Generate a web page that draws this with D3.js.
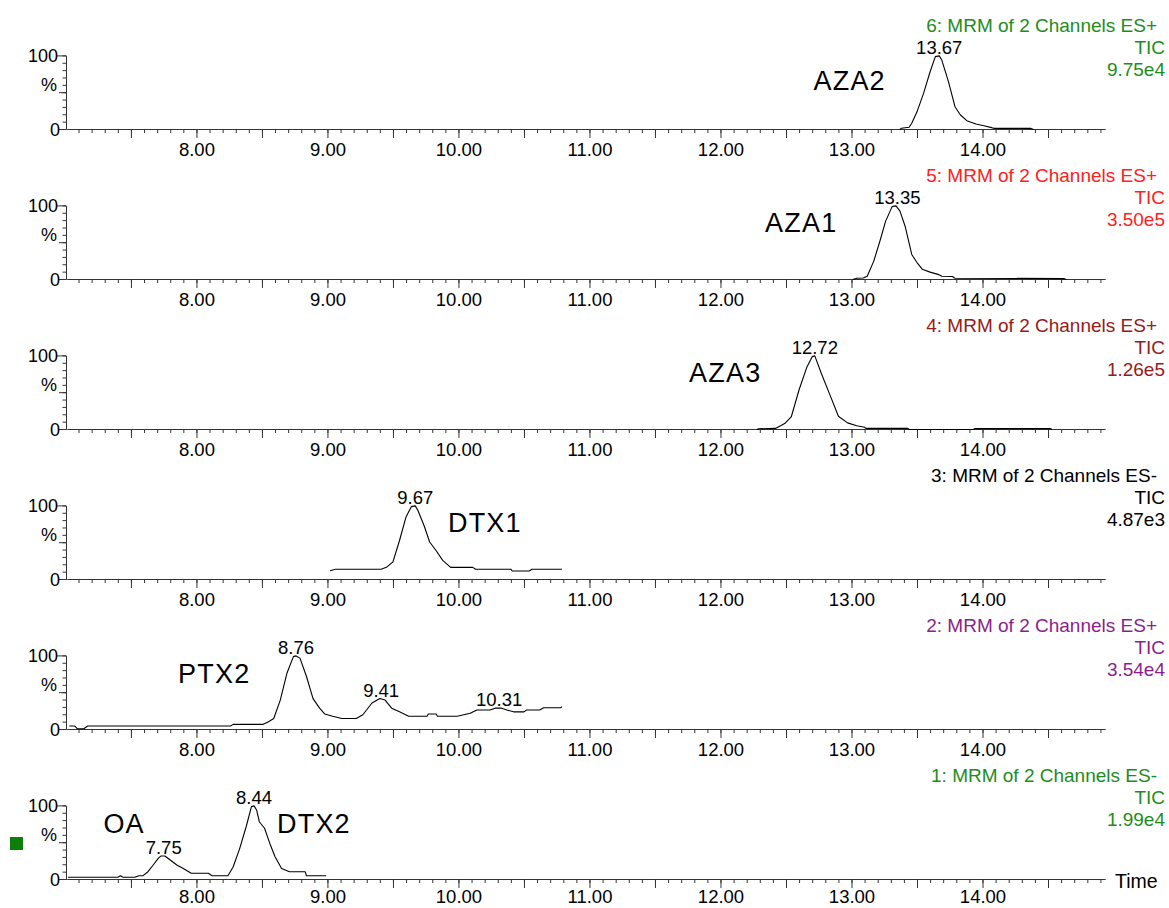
<!DOCTYPE html>
<html>
<head>
<meta charset="utf-8">
<script src="https://cdn.jsdelivr.net/npm/d3@7"></script>
<style>
  body { margin: 0; background: #fff; }
  svg { display: block; font-family: "Liberation Sans", Arial, sans-serif; }
</style>
</head>
<body>
<div id="chart"></div>
<script>
// ---- data ----
// traces: [time (min), intensity (%)]
var traceAZA2 = [[13.37,0],[13.38,1.6],[13.44,3],[13.46,8.4],[13.50,24],[13.55,49],[13.60,78.5],[13.64,99],[13.67,100],[13.69,94],[13.74,65],[13.79,31],[13.83,20],[13.88,12],[13.95,7.5],[14.01,5],[14.07,2.5],[14.09,1.5],[14.37,1.5],[14.39,0]];
var traceAZA1 = [[13.01,0],[13.04,1.8],[13.09,2],[13.12,4.5],[13.17,25],[13.22,54],[13.26,79],[13.31,99],[13.34,100],[13.37,93],[13.41,72],[13.46,34],[13.50,23],[13.54,14],[13.60,10],[13.66,7],[13.69,4.5],[13.77,4],[13.79,1.8],[14.62,1.2],[14.64,0]];
var traceAZA3 = [[12.28,0],[12.29,1],[12.42,1.5],[12.49,8],[12.54,17],[12.60,54],[12.66,85],[12.70,99],[12.72,100],[12.77,76],[12.84,45],[12.90,18],[12.97,9],[13.04,5],[13.10,3],[13.11,1.5],[13.43,1.5],[13.44,0],[13.93,0],[13.94,1.2],[14.52,1.2],[14.53,0]];
var traceDTX1 = [[9.02,12],[9.06,14],[9.41,14],[9.45,16.5],[9.50,24],[9.55,53],[9.60,85],[9.64,99],[9.67,100],[9.69,94],[9.74,72],[9.78,51],[9.83,39],[9.88,26],[9.94,16.5],[10.11,16.5],[10.13,14],[10.40,14],[10.41,11.6],[10.54,11.6],[10.56,14],[10.79,14]];
var tracePTX2 = [[7.03,4.8],[7.07,4.8],[7.09,1.1],[7.14,1.1],[7.17,4.8],[8.26,4.8],[8.28,7],[8.51,7],[8.55,10.6],[8.59,15],[8.64,40],[8.69,76],[8.74,99],[8.76,100],[8.79,97],[8.84,72],[8.89,42],[8.94,29],[8.98,21],[9.04,18],[9.11,15],[9.22,15],[9.27,20],[9.34,36],[9.40,42],[9.44,40],[9.49,29],[9.55,24],[9.62,18],[9.76,18],[9.77,21],[9.83,21],[9.84,18],[9.99,18],[10.09,22],[10.14,26.5],[10.24,26.5],[10.28,29],[10.33,29],[10.37,26.5],[10.42,24],[10.50,24],[10.52,26.5],[10.62,26.5],[10.65,29.6],[10.78,29.6],[10.79,31]];
var traceOA = [[7.02,3],[7.40,3],[7.42,5],[7.44,3],[7.53,3],[7.56,5],[7.59,5],[7.63,10.6],[7.67,19.7],[7.71,29],[7.73,32],[7.76,32],[7.80,26.5],[7.85,19.7],[7.90,15],[7.96,8.4],[8.09,8.4],[8.12,5],[8.24,5],[8.28,17],[8.33,42],[8.38,72],[8.42,99],[8.44,100],[8.46,94],[8.48,78.5],[8.52,69.6],[8.56,49],[8.60,31],[8.65,15],[8.71,10.6],[8.83,10.6],[8.84,5],[8.99,5]];

var traces = [traceAZA2, traceAZA1, traceAZA3, traceDTX1, tracePTX2, traceOA];

// header text per panel (top to bottom)
var channelTitles = ["6: MRM of 2 Channels ES+", "5: MRM of 2 Channels ES+", "4: MRM of 2 Channels ES+",
                     "3: MRM of 2 Channels ES-", "2: MRM of 2 Channels ES+", "1: MRM of 2 Channels ES-"];
var channelTypes = ["TIC", "TIC", "TIC", "TIC", "TIC", "TIC"];
var channelMax = ["9.75e4", "3.50e5", "1.26e5", "4.87e3", "3.54e4", "1.99e4"];
var channelColors = ["#1e8c1e", "#ff2020", "#961a1a", "#000000", "#8c1e8c", "#1e8c1e"];

// peak labels: [time, height %]
var peaks = [
  [[13.67, 100]],
  [[13.35, 100]],
  [[12.72, 100]],
  [[9.67, 100]],
  [[8.76, 100], [9.41, 42], [10.31, 29]],
  [[7.75, 32], [8.44, 100]]
];

// compound names: panel, text, time of left edge, level %
var compoundPanel = [0, 1, 2, 3, 4, 5, 5];
var compoundNames = ["AZA2", "AZA1", "AZA3", "DTX1", "PTX2", "OA", "DTX2"];
var compoundTimes = [12.71, 12.34, 11.76, 9.92, 7.86, 7.29, 8.615];
var compoundLevels = [53, 64.5, 64.5, 64.5, 63.2, 63.2, 63.2];

var xMinorTicks = d3.range(71, 150).map(d => d / 10);
var xMajorTicks = d3.range(15, 30).map(d => d / 2);
var yMinorTicks = d3.range(0, 101, 10);

// ---- layout ----
var W = 1169, H = 908;
var svg = d3.select("#chart").append("svg")
    .attr("width", W).attr("height", H);

var x = d3.scaleLinear().domain([7.012, 14.935]).range([67, 1105]);

var line = d3.line().x(d => x(d[0]));

traces.forEach(function(tr, i) {
  var base = 129 + 150 * i;
  var y = d3.scaleLinear().domain([0, 100]).range([base + 0.5, base + 0.5 - 73.6]);
  var g = svg.append("g");
  var last = i === traces.length - 1;

  // x axis, minor then major
  g.append("g")
    .attr("transform", "translate(0," + base + ")")
    .call(d3.axisBottom(x).tickValues(xMinorTicks).tickSize(4).tickSizeOuter(0).tickFormat(""));
  g.append("g")
    .attr("class", "xmaj")
    .attr("transform", "translate(0," + base + ")")
    .call(d3.axisBottom(x).tickValues(xMajorTicks).tickSize(9).tickSizeOuter(0).tickPadding(last ? 2 : 5)
      .tickFormat(d => Number.isInteger(d) ? d.toFixed(2) : ""));

  // y axis
  var yAx = d3.scaleLinear().domain([0, 100]).range([base, base - 73.6]);
  g.append("g")
    .attr("transform", "translate(66,0)")
    .call(d3.axisLeft(yAx).tickValues(yMinorTicks).tickSize(3.5).tickSizeOuter(0).tickFormat(""));
  g.append("g")
    .attr("transform", "translate(66,0)")
    .call(d3.axisLeft(yAx).tickValues([0, 50]).tickSize(7).tickSizeOuter(0).tickFormat(""));
  g.append("g")
    .attr("transform", "translate(66,0)")
    .call(d3.axisLeft(yAx).tickValues([100]).tickSize(9).tickSizeOuter(0).tickFormat(""));

  g.selectAll(".domain, .tick line").attr("stroke", "#333");
  g.selectAll(".xmaj text")
    .attr("fill", "#000")
    .style("font-size", "18.5px")
    .style("font-family", "'Liberation Sans', Arial, sans-serif");

  // y labels
  var lab = g.append("g").style("font-size", "18px").attr("fill", "#000").attr("text-anchor", "end");
  lab.append("text").attr("x", 58).attr("y", yAx(100) + 6.5).text("100");
  lab.append("text").attr("x", 57).attr("y", yAx(0) - 38).text("%");
  lab.append("text").attr("x", 60).attr("y", yAx(0) + 7).text("0");

  // trace
  g.append("path")
    .datum(tr)
    .attr("fill", "none")
    .attr("stroke", "#000")
    .attr("stroke-width", 1.1)
    .attr("stroke-linejoin", "round")
    .attr("d", line.y(d => y(d[1])));

  // peak labels
  g.selectAll(".pk")
    .data(peaks[i])
    .join("text")
    .attr("x", d => x(d[0]))
    .attr("y", d => y(d[1]) - 2)
    .attr("text-anchor", "middle")
    .style("font-size", "18.5px")
    .attr("fill", "#000")
    .text(d => d[0].toFixed(2));

  // channel header
  var hd = g.append("g").attr("fill", channelColors[i]).attr("text-anchor", "end").style("font-size", "19px");
  hd.append("text").attr("x", 1157).attr("y", base - 97).text(channelTitles[i]);
  hd.append("text").attr("x", 1165).attr("y", base - 75).text(channelTypes[i]);
  hd.append("text").attr("x", 1165).attr("y", base - 53).text(channelMax[i]);
});

// compound names
compoundNames.forEach(function(name, k) {
  var base = 129 + 150 * compoundPanel[k];
  var y = d3.scaleLinear().domain([0, 100]).range([base + 0.5, base + 0.5 - 73.6]);
  svg.append("text")
    .attr("x", x(compoundTimes[k]))
    .attr("y", y(compoundLevels[k]))
    .style("font-size", "27px")
    .style("letter-spacing", "1.2px")
    .attr("fill", "#000")
    .text(name);
});

// axis title
svg.append("text")
  .attr("x", 1115).attr("y", 888)
  .style("font-size", "19.5px")
  .attr("fill", "#000")
  .text("Time");

// selected trace marker
svg.append("rect")
  .attr("x", 10).attr("y", 837)
  .attr("width", 13).attr("height", 13)
  .attr("fill", "#0a800a");
</script>
</body>
</html>
